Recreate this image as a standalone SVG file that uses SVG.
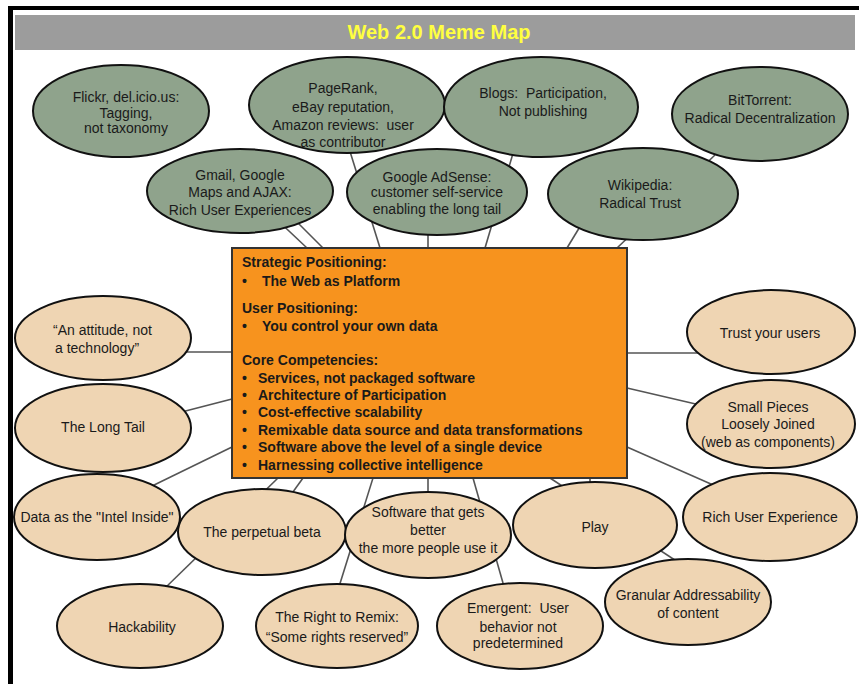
<svg xmlns="http://www.w3.org/2000/svg" width="859" height="684" viewBox="0 0 859 684">
<style>
.g{fill:#8FA38C;stroke:#111;stroke-width:2}
.t{fill:#EFD5B3;stroke:#111;stroke-width:2}
.lbl{font-family:"Liberation Sans",Arial,sans-serif;font-size:14px;fill:#1a1a1a;text-anchor:middle}
.lft{text-anchor:start}
.box{font-family:"Liberation Sans",Arial,sans-serif;font-size:14px;font-weight:bold;fill:#1a1a1a}
#connectors line{stroke:#555;stroke-width:1.6}
</style>
<rect x="0" y="0" width="859" height="684" fill="#fff"/>
<rect x="8" y="6" width="851" height="4" fill="#000"/>
<rect x="8" y="6" width="5" height="678" fill="#000"/>
<g id="title">
<rect x="15" y="15" width="840" height="35" fill="#9C9C9C"/>
<text x="439" y="39" font-family="'Liberation Sans',Arial,sans-serif" font-size="20" font-weight="bold" fill="#FFFF40" text-anchor="middle">Web 2.0 Meme Map</text>
</g>
<g id="connectors">
<line x1="272" y1="215" x2="307" y2="248"/>
<line x1="290" y1="215" x2="323" y2="248"/>
<line x1="348" y1="145" x2="380" y2="248"/>
<line x1="428" y1="220" x2="428" y2="248"/>
<line x1="514" y1="150" x2="485" y2="248"/>
<line x1="584" y1="220" x2="567" y2="248"/>
<line x1="715" y1="155" x2="617" y2="248"/>
<line x1="180" y1="352" x2="232" y2="352"/>
<line x1="170" y1="415" x2="232" y2="399"/>
<line x1="150" y1="487" x2="232" y2="447"/>
<line x1="163" y1="590" x2="278" y2="478"/>
<line x1="285" y1="503" x2="303" y2="478"/>
<line x1="338" y1="590" x2="373" y2="478"/>
<line x1="428" y1="500" x2="428" y2="478"/>
<line x1="505" y1="590" x2="473" y2="478"/>
<line x1="550" y1="478" x2="690" y2="570"/>
<line x1="590" y1="478" x2="590" y2="495"/>
<line x1="627" y1="447" x2="720" y2="488"/>
<line x1="627" y1="388" x2="700" y2="405"/>
<line x1="627" y1="353" x2="700" y2="353"/>
</g>
<g id="flickr"><ellipse class="g" cx="121" cy="111" rx="88" ry="46"/>
<text class="lbl" x="126" y="102">Flickr, del.icio.us:</text><text class="lbl" x="126" y="118">Tagging,</text><text class="lbl" x="126" y="133">not taxonomy</text></g>
<g id="pagerank"><ellipse class="g" cx="347" cy="105" rx="98" ry="48"/>
<text class="lbl" x="343" y="93">PageRank,</text><text class="lbl" x="343" y="112">eBay reputation,</text><text class="lbl" x="343" y="130">Amazon reviews:&#160; user</text><text class="lbl" x="343" y="147">as contributor</text></g>
<g id="blogs"><ellipse class="g" cx="541" cy="107" rx="97" ry="50"/>
<text class="lbl" x="543" y="98">Blogs:&#160; Participation,</text><text class="lbl" x="543" y="116">Not publishing</text></g>
<g id="bittorrent"><ellipse class="g" cx="760" cy="114" rx="88" ry="47"/>
<text class="lbl" x="760" y="105">BitTorrent:</text><text class="lbl" x="760" y="123">Radical Decentralization</text></g>
<g id="gmail"><ellipse class="g" cx="240" cy="191" rx="93" ry="42"/>
<text class="lbl" x="240" y="180">Gmail, Google</text><text class="lbl" x="240" y="197">Maps and AJAX:</text><text class="lbl" x="240" y="215">Rich User Experiences</text></g>
<g id="adsense"><ellipse class="g" cx="437" cy="192" rx="90" ry="43"/>
<text class="lbl" x="437" y="182">Google AdSense:</text><text class="lbl" x="437" y="197">customer self-service</text><text class="lbl" x="437" y="214">enabling the long tail</text></g>
<g id="wikipedia"><ellipse class="g" cx="643" cy="194" rx="95" ry="46"/>
<text class="lbl" x="640" y="190">Wikipedia:</text><text class="lbl" x="640" y="208">Radical Trust</text></g>
<g id="attitude"><ellipse class="t" cx="103" cy="338" rx="88" ry="42"/>
<text class="lbl lft" x="53" y="335">“An attitude, not</text><text class="lbl lft" x="55" y="353">a technology”</text></g>
<g id="longtail"><ellipse class="t" cx="103" cy="428" rx="88" ry="44"/>
<text class="lbl" x="103" y="432">The Long Tail</text></g>
<g id="trust"><ellipse class="t" cx="771" cy="332" rx="84" ry="42"/>
<text class="lbl" x="770" y="338">Trust your users</text></g>
<g id="smallpieces"><ellipse class="t" cx="771" cy="424" rx="84" ry="44"/>
<text class="lbl" x="768" y="412">Small Pieces</text><text class="lbl" x="768" y="429">Loosely Joined</text><text class="lbl" x="768" y="447">(web as components)</text></g>
<g id="datainside"><ellipse class="t" cx="97" cy="517" rx="83" ry="43"/>
<text class="lbl" x="97" y="522">Data as the "Intel Inside"</text></g>
<g id="beta"><ellipse class="t" cx="262" cy="532" rx="84" ry="43"/>
<text class="lbl" x="262" y="537">The perpetual beta</text></g>
<g id="software"><ellipse class="t" cx="428" cy="535" rx="83" ry="43"/>
<text class="lbl" x="428" y="517">Software that gets</text><text class="lbl" x="428" y="535">better</text><text class="lbl" x="428" y="553">the more people use it</text></g>
<g id="play"><ellipse class="t" cx="595" cy="525" rx="82" ry="43"/>
<text class="lbl" x="595" y="532">Play</text></g>
<g id="richux"><ellipse class="t" cx="770" cy="517" rx="87" ry="44"/>
<text class="lbl" x="770" y="522">Rich User Experience</text></g>
<g id="granular"><ellipse class="t" cx="688" cy="602" rx="83" ry="43"/>
<text class="lbl" x="688" y="600">Granular Addressability</text><text class="lbl" x="688" y="618">of content</text></g>
<g id="hackability"><ellipse class="t" cx="140" cy="626" rx="83" ry="42"/>
<text class="lbl" x="142" y="632">Hackability</text></g>
<g id="remix"><ellipse class="t" cx="337" cy="626" rx="81" ry="42"/>
<text class="lbl" x="337" y="622">The Right to Remix:</text><text class="lbl" x="337" y="642">“Some rights reserved”</text></g>
<g id="emergent"><ellipse class="t" cx="520" cy="626" rx="83" ry="43"/>
<text class="lbl" x="518" y="613">Emergent:&#160; User</text><text class="lbl" x="518" y="632">behavior not</text><text class="lbl" x="518" y="648">predetermined</text></g>
<g id="core">
<rect x="232" y="248" width="395" height="230" fill="#F7931E" stroke="#333" stroke-width="2"/>
<text class="box" x="242" y="267">Strategic Positioning:</text>
<text class="box" x="242" y="286">•</text><text class="box" x="262" y="286">The Web as Platform</text>
<text class="box" x="242" y="313">User Positioning:</text>
<text class="box" x="242" y="331">•</text><text class="box" x="262" y="331">You control your own data</text>
<text class="box" x="242" y="365">Core Competencies:</text>
<text class="box" x="242" y="383">•</text><text class="box" x="258" y="383">Services, not packaged software</text>
<text class="box" x="242" y="400">•</text><text class="box" x="258" y="400">Architecture of Participation</text>
<text class="box" x="242" y="417">•</text><text class="box" x="258" y="417">Cost-effective scalability</text>
<text class="box" x="242" y="435">•</text><text class="box" x="258" y="435">Remixable data source and data transformations</text>
<text class="box" x="242" y="452">•</text><text class="box" x="258" y="452">Software above the level of a single device</text>
<text class="box" x="242" y="470">•</text><text class="box" x="258" y="470">Harnessing collective intelligence</text>
</g>
</svg>
